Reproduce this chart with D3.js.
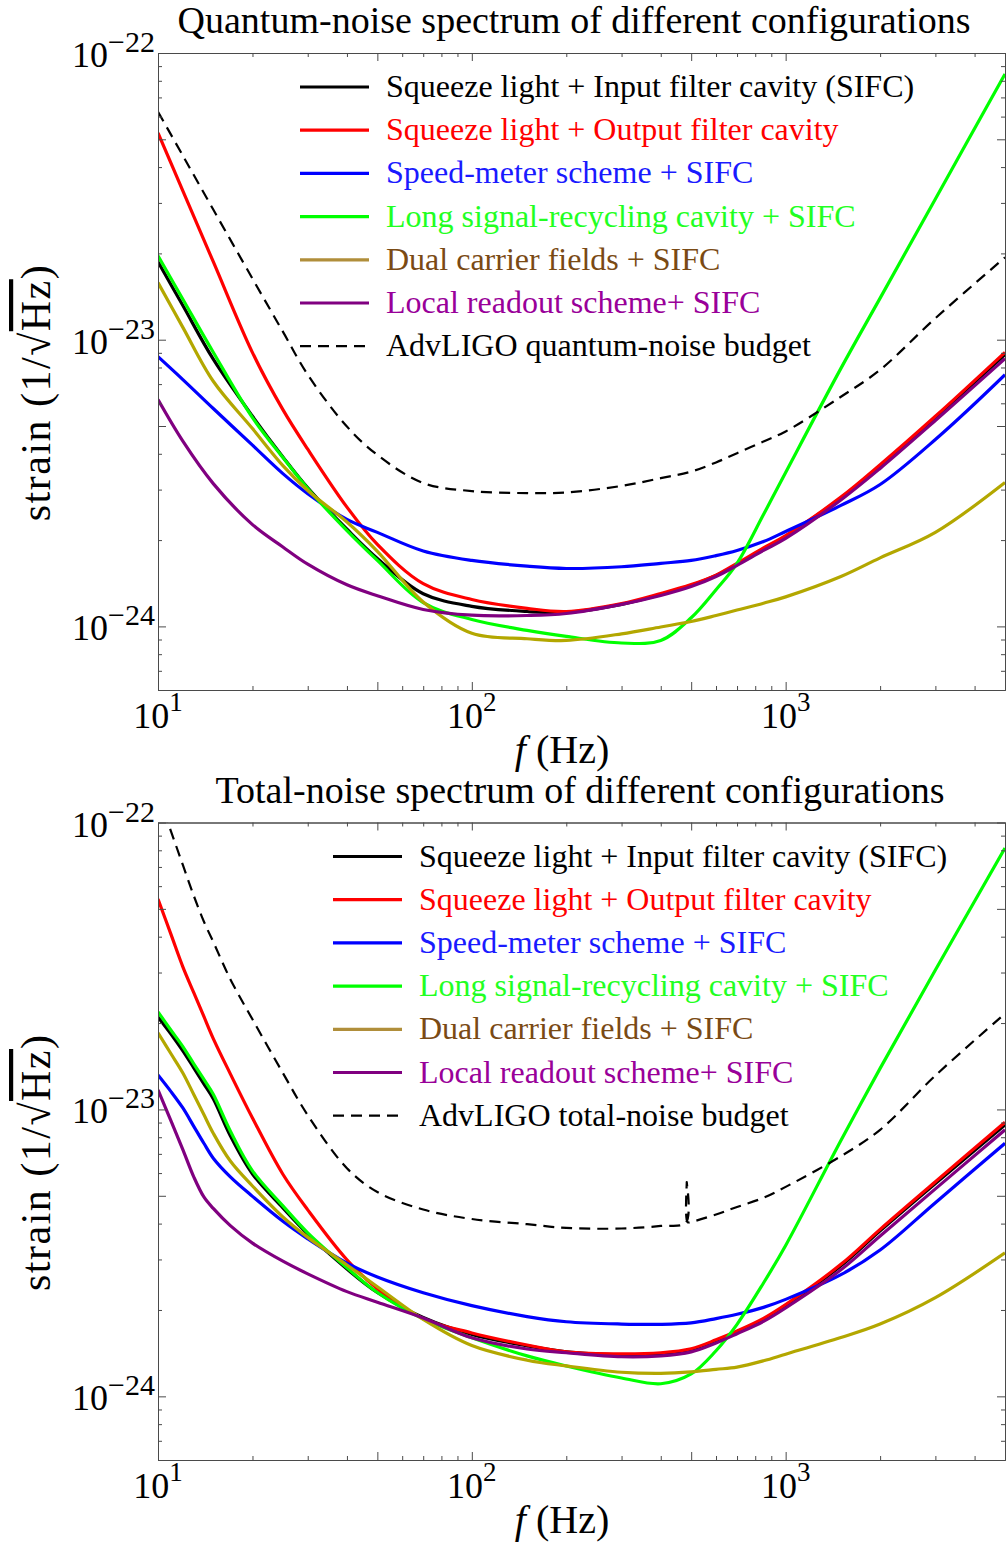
<!DOCTYPE html>
<html>
    <head>
        <title>Noise spectra</title>
        <meta charset="utf-8">
        <style>
            html, body {
                margin: 0px;
                padding: 0px;
                background-color: #ffffff;
            }

            #main svg {
                display: block;
                font-family: "Liberation Serif", "DejaVu Serif", serif;
            }

            .frame path, .frame line {
                stroke: #4a4a4a;
                stroke-width: 1;
                fill: none;
            }
        </style>
        <script src="https://cdn.jsdelivr.net/npm/d3@7"></script>
    </head>
    <body>
        <div id="main">
        </div>

        <script>
            // frequencies (Hz) the curves were read at
            var freqQuantum = [10, 12, 15, 20, 25, 30, 40, 50, 70, 100, 150, 200, 300, 400, 500, 600, 700, 850, 1000, 1500, 2000, 3000, 5000];
            var freqTotal = [10, 11, 12, 13, 14, 15, 17, 20, 25, 30, 40, 50, 70, 100, 150, 200, 300, 400, 500, 600, 700, 850, 1000, 1500, 2000, 3000, 5000];

            // values are log10 of strain (1/sqrt(Hz))
            var sifcQuantum    = [-22.728, -22.881, -23.068, -23.267, -23.409, -23.517, -23.661, -23.763, -23.886, -23.930, -23.948, -23.951, -23.923, -23.889, -23.857, -23.822, -23.784, -23.732, -23.686, -23.552, -23.441, -23.272, -23.052];
            var ofcQuantum     = [-22.279, -22.481, -22.728, -23.045, -23.244, -23.382, -23.584, -23.714, -23.851, -23.906, -23.937, -23.948, -23.920, -23.885, -23.854, -23.821, -23.780, -23.726, -23.683, -23.549, -23.436, -23.267, -23.044];
            var speedQuantum   = [-23.059, -23.139, -23.240, -23.368, -23.467, -23.537, -23.627, -23.672, -23.737, -23.770, -23.790, -23.798, -23.792, -23.780, -23.770, -23.753, -23.735, -23.704, -23.669, -23.578, -23.505, -23.348, -23.122];
            var longSrcQuantum = [-22.707, -22.859, -23.044, -23.272, -23.411, -23.519, -23.666, -23.770, -23.917, -23.976, -24.014, -24.035, -24.058, -24.049, -23.970, -23.872, -23.780, -23.610, -23.463, -23.100, -22.855, -22.509, -22.073];
            var dualQuantum    = [-22.801, -22.957, -23.145, -23.310, -23.439, -23.526, -23.636, -23.738, -23.915, -24.024, -24.043, -24.049, -24.026, -24.002, -23.983, -23.962, -23.943, -23.919, -23.897, -23.826, -23.761, -23.672, -23.498];
            var localQuantum   = [-23.209, -23.354, -23.502, -23.645, -23.723, -23.783, -23.855, -23.893, -23.941, -23.961, -23.962, -23.955, -23.923, -23.892, -23.861, -23.826, -23.787, -23.735, -23.693, -23.559, -23.449, -23.282, -23.066];
            var budgetQuantum  = [-22.205, -22.358, -22.546, -22.787, -22.972, -23.122, -23.303, -23.402, -23.500, -23.528, -23.535, -23.533, -23.510, -23.483, -23.460, -23.428, -23.396, -23.355, -23.320, -23.199, -23.105, -22.925, -22.713];

            var sifcTotal    = [-22.678, -22.737, -22.796, -22.855, -22.911, -22.963, -23.092, -23.225, -23.343, -23.434, -23.556, -23.638, -23.725, -23.784, -23.824, -23.845, -23.855, -23.852, -23.838, -23.807, -23.775, -23.732, -23.685, -23.545, -23.423, -23.258, -23.054];
            var ofcTotal     = [-22.267, -22.390, -22.503, -22.593, -22.676, -22.753, -22.876, -23.030, -23.226, -23.350, -23.524, -23.625, -23.729, -23.779, -23.821, -23.845, -23.852, -23.848, -23.834, -23.803, -23.772, -23.728, -23.680, -23.540, -23.418, -23.252, -23.045];
            var speedTotal   = [-22.880, -22.938, -22.995, -23.059, -23.118, -23.170, -23.235, -23.303, -23.390, -23.451, -23.536, -23.584, -23.639, -23.684, -23.722, -23.740, -23.748, -23.749, -23.744, -23.729, -23.714, -23.690, -23.662, -23.576, -23.490, -23.325, -23.118];
            var longSrcTotal = [-22.660, -22.724, -22.781, -22.841, -22.895, -22.947, -23.075, -23.214, -23.336, -23.430, -23.552, -23.638, -23.730, -23.796, -23.859, -23.894, -23.936, -23.956, -23.922, -23.841, -23.749, -23.605, -23.474, -23.108, -22.857, -22.514, -22.089];
            var dualTotal    = [-22.733, -22.806, -22.873, -22.948, -23.018, -23.083, -23.180, -23.267, -23.375, -23.446, -23.542, -23.618, -23.732, -23.823, -23.874, -23.894, -23.916, -23.920, -23.915, -23.906, -23.898, -23.876, -23.853, -23.795, -23.748, -23.656, -23.500];
            var localTotal   = [-22.932, -23.040, -23.140, -23.235, -23.305, -23.345, -23.405, -23.466, -23.529, -23.573, -23.635, -23.672, -23.727, -23.796, -23.835, -23.848, -23.862, -23.859, -23.845, -23.814, -23.782, -23.739, -23.692, -23.559, -23.441, -23.277, -23.071];
            var budgetTotal  = [-21.904, -22.031, -22.148, -22.255, -22.345, -22.416, -22.546, -22.686, -22.873, -23.020, -23.205, -23.288, -23.349, -23.382, -23.400, -23.413, -23.415, -23.406, -23.392, -23.366, -23.340, -23.308, -23.270, -23.163, -23.071, -22.882, -22.666];
            // the little spike on the total budget near 484 Hz
            var budgetTotalGlitch = [[481, -23.394], [484, -23.253], [487, -23.393]];

            var configNames = [
                "Squeeze light + Input filter cavity (SIFC)",
                "Squeeze light + Output filter cavity",
                "Speed-meter scheme + SIFC",
                "Long signal-recycling cavity + SIFC",
                "Dual carrier fields + SIFC",
                "Local readout scheme+ SIFC"
            ];
            var budgetNames = ["AdvLIGO quantum-noise budget", "AdvLIGO total-noise budget"];
            var panelTitles = ["Quantum-noise spectrum of different configurations", "Total-noise spectrum of different configurations"];

            var lineColors = ["#000000", "#ff0000", "#0000ff", "#00ff00", "#b3a700", "#800080"];
            var keyColors  = ["#000000", "#ff0000", "#0000ff", "#00ff00", "#b08e3a", "#800080"];
            var textColors = ["#000000", "#ff0000", "#1a1aff", "#22ff22", "#7a4a14", "#990099"];

            var width = 1006;
            var height = 1545;
            var left = 158;
            var right = 1005;

            function toPoints(freq, vals) {
                return freq.map(function(f, i) { return {f: f, h: Math.pow(10, vals[i])}; });
            }

            function logTicks(lo, hi) {
                var major = [], minor = [];
                for (var e = Math.floor(Math.log10(lo)); e <= Math.ceil(Math.log10(hi)); e++) {
                    for (var m = 1; m < 10; m++) {
                        var v = m * Math.pow(10, e);
                        if (v < lo * 0.999 || v > hi * 1.001) continue;
                        if (m == 1 || m == 5) major.push(v); else minor.push(v);
                    }
                }
                return {major: major, minor: minor};
            }

            function drawFrame(g, x, y, p) {
                var tx = logTicks(10, 5000);
                var ty = logTicks(6e-25, 1e-22);
                [[tx.major, ty.major, 8], [tx.minor, ty.minor, 4]].forEach(function(t) {
                    g.append("g").attr("class", "frame")
                        .attr("transform", "translate(0," + p.bottom + ")")
                        .call(d3.axisBottom(x).tickValues(t[0]).tickSize(-t[2]).tickSizeOuter(0).tickFormat(""));
                    g.append("g").attr("class", "frame")
                        .attr("transform", "translate(0," + p.top + ")")
                        .call(d3.axisTop(x).tickValues(t[0]).tickSize(-t[2]).tickSizeOuter(0).tickFormat(""));
                    g.append("g").attr("class", "frame")
                        .attr("transform", "translate(" + left + ",0)")
                        .call(d3.axisLeft(y).tickValues(t[1]).tickSize(-t[2]).tickSizeOuter(0).tickFormat(""));
                    g.append("g").attr("class", "frame")
                        .attr("transform", "translate(" + right + ",0)")
                        .call(d3.axisRight(y).tickValues(t[1]).tickSize(-t[2]).tickSizeOuter(0).tickFormat(""));
                });

                // decade labels, 10 with a superscript
                [10, 100, 1000].forEach(function(v) {
                    var t = g.append("text")
                        .attr("x", x(v))
                        .attr("y", p.bottom + 38)
                        .attr("text-anchor", "middle")
                        .attr("font-size", 36);
                    t.append("tspan").text("10");
                    t.append("tspan").attr("dy", -17).attr("font-size", 27).text(Math.round(Math.log10(v)));
                });
                [1e-22, 1e-23, 1e-24].forEach(function(v) {
                    var t = g.append("text")
                        .attr("x", 155)
                        .attr("y", y(v) + 14)
                        .attr("text-anchor", "end")
                        .attr("font-size", 36);
                    t.append("tspan").text("10");
                    t.append("tspan").attr("dy", -15).attr("font-size", 30)
                        .text("\u2212" + Math.abs(Math.round(Math.log10(v))));
                });
            }

            function drawPanel(svg, p, idx) {
                var x = d3.scaleLog().domain([10, 5000]).range([left, right]);
                var y = d3.scaleLog().domain([6e-25, 1e-22]).range([p.bottom, p.top]);
                var g = svg.append("g");

                g.append("clipPath").attr("id", "clip" + idx)
                  .append("rect")
                    .attr("x", left).attr("y", p.top)
                    .attr("width", right - left).attr("height", p.bottom - p.top);

                var line = d3.line()
                    .curve(d3.curveCatmullRom.alpha(0.5))
                    .x(function(d) { return x(d.f); })
                    .y(function(d) { return y(d.h); });

                var curves = g.append("g").attr("clip-path", "url(#clip" + idx + ")");
                p.series.forEach(function(vals, i) {
                    curves.append("path")
                        .datum(toPoints(p.freq, vals))
                        .attr("fill", "none")
                        .attr("stroke", lineColors[i])
                        .attr("stroke-width", 3.2)
                        .attr("d", line);
                });
                curves.append("path")
                    .datum(p.budgetPoints)
                    .attr("fill", "none")
                    .attr("stroke", "#000")
                    .attr("stroke-width", 2.2)
                    .attr("stroke-dasharray", "11,7")
                    .attr("d", line);

                drawFrame(g, x, y, p);

                // titles and axis labels
                g.append("text")
                    .attr("x", p.titleX).attr("y", p.top - 20)
                    .attr("text-anchor", "middle")
                    .attr("font-size", 38)
                    .text(panelTitles[idx]);

                var fl = g.append("text")
                    .attr("x", 562).attr("y", p.bottom + 73)
                    .attr("text-anchor", "middle")
                    .attr("font-size", 40);
                fl.append("tspan").attr("font-style", "italic").text("f");
                fl.append("tspan").text(" (Hz)");

                var yl = g.append("text")
                    .attr("transform", "translate(50," + ((p.top + p.bottom) / 2 + 21) + ") rotate(-90)")
                    .attr("text-anchor", "middle")
                    .attr("font-size", 42)
                    .attr("letter-spacing", 1.5);
                yl.append("tspan").text("strain  (1/\u221a");
                yl.append("tspan").style("text-decoration", "overline").text("Hz");
                yl.append("tspan").text(")");

                // legend
                var names = configNames.concat([budgetNames[idx]]);
                names.forEach(function(name, i) {
                    var ly = p.top + 34 + i * 43.2;
                    var dashed = i == names.length - 1;
                    g.append("line")
                        .attr("x1", p.keyX).attr("x2", p.keyX + 69)
                        .attr("y1", ly).attr("y2", ly)
                        .attr("stroke", dashed ? "#000" : keyColors[i])
                        .attr("stroke-width", dashed ? 2.2 : 3.2)
                        .attr("stroke-dasharray", dashed ? "11,7" : null);
                    g.append("text")
                        .attr("x", p.keyX + 86).attr("y", ly + 10)
                        .attr("font-size", 32)
                        .attr("fill", dashed ? "#000" : textColors[i])
                        .text(name);
                });
            }

            function main() {
                var svg = d3.select("#main")
                    .append("svg")
                    .attr("width", width)
                    .attr("height", height);

                var glitch = budgetTotalGlitch.map(function(d) { return {f: d[0], h: Math.pow(10, d[1])}; });
                var totalBudget = toPoints(freqTotal, budgetTotal).concat(glitch)
                    .sort(function(a, b) { return a.f - b.f; });

                drawPanel(svg, {
                    top: 53, bottom: 690, titleX: 574, keyX: 300,
                    freq: freqQuantum,
                    series: [sifcQuantum, ofcQuantum, speedQuantum, longSrcQuantum, dualQuantum, localQuantum],
                    budgetPoints: toPoints(freqQuantum, budgetQuantum)
                }, 0);

                drawPanel(svg, {
                    top: 822.5, bottom: 1460, titleX: 580, keyX: 333,
                    freq: freqTotal,
                    series: [sifcTotal, ofcTotal, speedTotal, longSrcTotal, dualTotal, localTotal],
                    budgetPoints: totalBudget
                }, 1);
            }

            main();
        </script>
    </body>
</html>
